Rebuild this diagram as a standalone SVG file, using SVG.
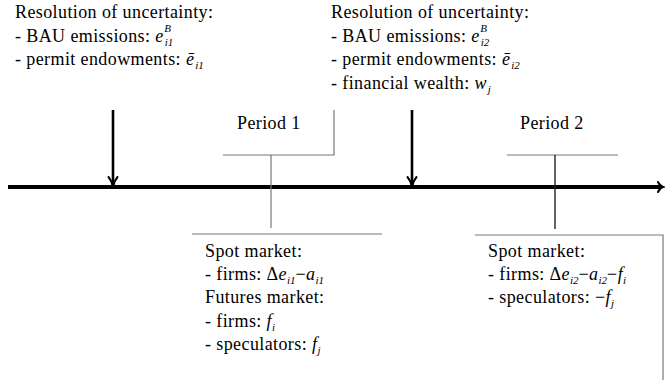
<svg xmlns="http://www.w3.org/2000/svg" width="665" height="380" viewBox="0 0 665 380" font-family="'Liberation Serif', 'Times New Roman', 'DejaVu Serif', serif">
<style>
text{font-family:'Liberation Serif','Times New Roman','DejaVu Serif',serif;font-size:18px;fill:#000;letter-spacing:0.4px}
.m{font-style:italic}
.s{font-size:11px;font-style:italic;letter-spacing:0}
.thin{fill:none;stroke:#777;stroke-width:1.2}
.dark{fill:none;stroke:#222;stroke-width:1.4}
.axis{fill:none;stroke:#000;stroke-width:4}
.arr{fill:none;stroke:#000;stroke-width:2.6}
.head{fill:none;stroke:#000;stroke-width:2;stroke-linecap:round}
</style>
<g id="connectors">
<path class="axis" d="M8,187 H661"/>
<path class="head" d="M658,182 Q660,186 663,187 Q660,188 658,192"/>
<path class="arr" d="M113,110 V185"/>
<path class="head" d="M108.5,177 Q112,181 113,187 Q114,181 117.5,177"/>
<path class="arr" d="M412,110 V185"/>
<path class="head" d="M407.5,177 Q411,181 412,187 Q413,181 416.5,177"/>
<path class="thin" d="M334,110 V155 H223"/>
<path class="thin" d="M271,155 V228"/>
<path class="thin" d="M192,234 H382"/>
<path class="thin" d="M507,155 H618"/>
<path class="dark" d="M555,155 V229"/>
<path class="thin" d="M475,235 H663 V380"/>
</g>
<g id="resolution1">
<text x="15" y="18">Resolution of uncertainty:</text>
<text x="15" y="41.5">- BAU emissions: <tspan class="m">e</tspan><tspan class="s" dx="1" dy="4">i1</tspan><tspan class="s" dx="-9" dy="-14">B</tspan></text>
<text x="15" y="65">- permit endowments: <tspan class="m">ē</tspan><tspan class="s" dx="1" dy="4">i1</tspan></text>
</g>
<g id="resolution2">
<text x="331" y="18">Resolution of uncertainty:</text>
<text x="331" y="41.5">- BAU emissions: <tspan class="m">e</tspan><tspan class="s" dx="1" dy="4">i2</tspan><tspan class="s" dx="-9" dy="-14">B</tspan></text>
<text x="331" y="65">- permit endowments: <tspan class="m">ē</tspan><tspan class="s" dx="1" dy="4">i2</tspan></text>
<text x="331" y="88.5">- financial wealth: <tspan class="m">w</tspan><tspan class="s" dx="1" dy="4">j</tspan></text>
</g>
<g id="period1">
<text x="237" y="129">Period 1</text>
</g>
<g id="period2">
<text x="520" y="129">Period 2</text>
</g>
<g id="market1">
<text x="205" y="257">Spot market:</text>
<text x="205" y="280">- firms: Δ<tspan class="m">e</tspan><tspan class="s" dy="4">i1</tspan><tspan dy="-4">−</tspan><tspan class="m">a</tspan><tspan class="s" dy="4">i1</tspan></text>
<text x="205" y="303">Futures market:</text>
<text x="205" y="327">- firms: <tspan class="m">f</tspan><tspan class="s" dy="4">i</tspan></text>
<text x="205" y="350">- speculators: <tspan class="m">f</tspan><tspan class="s" dy="4">j</tspan></text>
</g>
<g id="market2">
<text x="488" y="257">Spot market:</text>
<text x="488" y="280">- firms: Δ<tspan class="m">e</tspan><tspan class="s" dy="4">i2</tspan><tspan dy="-4">−</tspan><tspan class="m">a</tspan><tspan class="s" dy="4">i2</tspan><tspan dy="-4">−</tspan><tspan class="m">f</tspan><tspan class="s" dy="4">i</tspan></text>
<text x="488" y="303">- speculators: −<tspan class="m">f</tspan><tspan class="s" dy="4">j</tspan></text>
</g>
</svg>
